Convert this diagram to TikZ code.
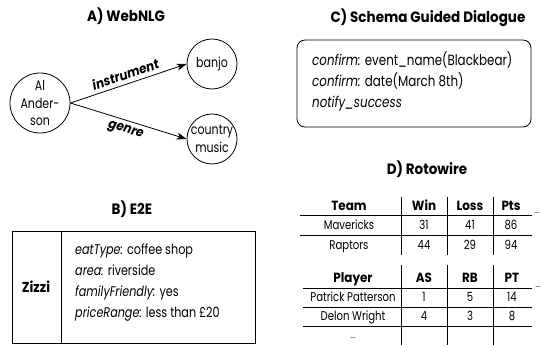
\documentclass[tikz,border=0pt]{standalone}
\usepackage{fontspec}
\setmainfont{Poppins}
\newfontfamily\condf{Poppins}[FakeStretch=0.8]
\newfontfamily\semif{Poppins}[FakeStretch=0.9]
\usetikzlibrary{arrows.meta}
\begin{document}
\begin{tikzpicture}[x=1pt,y=-1pt,
  title/.style={anchor=base, inner sep=0pt, font=\semif\fontsize{15}{16}\selectfont\bfseries},
  ent/.style={circle, draw, line width=0.8pt, inner sep=0pt, align=center,
    font=\condf\fontsize{13.75}{17.5}\selectfont},
  rel/.style={line width=0.8pt, -{Stealth[length=10pt,width=7pt,inset=3pt]}},
  rlab/.style={font=\semif\fontsize{13.3}{14}\selectfont\bfseries\itshape, sloped, inner sep=4pt},
  frame/.style={line width=0.8pt},
  line/.style={anchor=base west, inner sep=0pt, font=\condf\fontsize{14.85}{16}\selectfont},
  eline/.style={anchor=base west, inner sep=0pt, font=\condf\fontsize{14}{16}\selectfont},
  rule/.style={line width=0.7pt},
  cell/.style={anchor=base, inner sep=0pt, font=\condf\fontsize{12.65}{14}\selectfont},
  hcell/.style={anchor=base, inner sep=0pt, font=\semif\fontsize{13.3}{14}\selectfont\bfseries},
  more/.style={anchor=base, inner sep=0pt, font=\fontsize{8}{9}\selectfont},
]
\useasboundingbox (0,0) rectangle (541,347);

% ---------- A) WebNLG ----------
\node[title] (tA) at (126,22) {A) WebNLG};
\node[ent, minimum size=60pt] (al) at (40,103) {Al\\Ander-\\son};
\node[ent, minimum size=50pt] (banjo) at (212,64) {banjo};
\node[ent, minimum size=50pt] (country) at (212,139) {country\\music};
\draw[rel] (al.east) -- node[rlab, above] {instrument} (banjo.west);
\draw[rel] (al.east) -- node[rlab, below] {genre} (country.west);

% ---------- C) Schema Guided Dialogue ----------
\node[title] (tC) at (428,23) {C) Schema Guided Dialogue};
\draw[frame, rounded corners=8pt] (297,40) rectangle (531,127);
\node[line] (c1) at (312,66) {\itshape confirm:\upshape{} event\_name(Blackbear)};
\node[line] (c2) at (312,87) {\itshape confirm:\upshape{} date(March 8th)};
\node[line] (c3) at (312,108) {\itshape notify\_success};

% ---------- B) E2E ----------
\node[title] (tB) at (132,215) {B) E2E};
\draw[frame] (12,231) rectangle (255,343);
\draw[frame] (61,231) -- (61,343);
\node[anchor=center, inner sep=0pt, font=\semif\fontsize{14.4}{15}\selectfont\bfseries] (zizzi) at (36,287) {Zizzi};
\node[eline] (b1) at (75,255) {\itshape eatType:\upshape{} coffee shop};
\node[eline] (b2) at (75,276) {\itshape area:\upshape{} riverside};
\node[eline] (b3) at (75,297) {\itshape familyFriendly:\upshape{} yes};
\node[eline] (b4) at (75,318) {\itshape priceRange:\upshape{} less than £20};

% ---------- D) Rotowire ----------
\node[title] (tD) at (427,175) {D) Rotowire};

% team table
\foreach \x in {401,447,493} \draw[rule] (\x,197) -- (\x,255);
\draw[rule] (300,215) -- (532,215);
\draw[rule] (300,235) -- (532,235);
\node[hcell] (t00) at (349,211) {Team};
\node[hcell] (t01) at (424,211) {Win};
\node[hcell] (t02) at (470,211) {Loss};
\node[hcell] (t03) at (511,211) {Pts};
\node[cell] (t10) at (349,230) {Mavericks};
\node[cell] (t11) at (424,230) {31};
\node[cell] (t12) at (470,230) {41};
\node[cell] (t13) at (511,230) {86};
\node[cell] (t20) at (349,250) {Raptors};
\node[cell] (t21) at (424,250) {44};
\node[cell] (t22) at (470,250) {29};
\node[cell] (t23) at (511,250) {94};
\node[more] (tmore) at (537,214) {...};

% player table
\foreach \x in {401,447,493} \draw[rule] (\x,265) -- (\x,345);
\draw[rule] (303,288) -- (532,288);
\draw[rule] (303,307) -- (532,307);
\draw[rule] (303,326) -- (532,326);
\node[hcell] (p00) at (353,283) {Player};
\node[hcell] (p01) at (424,283) {AS};
\node[hcell] (p02) at (470,283) {RB};
\node[hcell] (p03) at (512,283) {PT};
\node[cell] (p10) at (353,302) {Patrick Patterson};
\node[cell] (p11) at (424,302) {1};
\node[cell] (p12) at (470,302) {5};
\node[cell] (p13) at (512,302) {14};
\node[cell] (p20) at (353,321) {Delon Wright};
\node[cell] (p21) at (424,321) {4};
\node[cell] (p22) at (470,321) {3};
\node[cell] (p23) at (512,321) {8};
\node[more] (p30) at (353,339) {...};
\node[more] (pmore) at (538,288) {...};
\end{tikzpicture}
\end{document}
